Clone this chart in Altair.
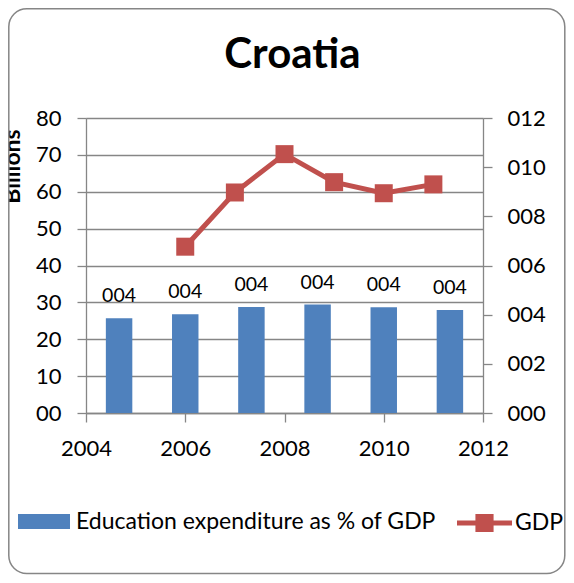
import altair as alt
import pandas as pd

# ---- data ----
title_text = "Croatia"
bar_series = "Education expenditure as % of GDP"
line_series = "GDP"
bar_categories = ["2005", "2006", "2007", "2008", "2009", "2010"]
edu_values = [3.85, 4.02, 4.31, 4.41, 4.30, 4.19]
gdp_years = [2006, 2007, 2008, 2009, 2010, 2011]
gdp_values = [45.1, 59.8, 70.2, 62.6, 59.6, 62.0]
left_ticks = [0, 10, 20, 30, 40, 50, 60, 70, 80]
right_ticks = [0, 2, 4, 6, 8, 10, 12]
x_ticks = [2004, 2006, 2008, 2010, 2012]

BLUE = "#4F81BD"
RED = "#C0504D"
GRAY = "#868686"
FONT = "Lato"

bars_df = pd.DataFrame({"cat": bar_categories, "edu": edu_values, "series": bar_series})
gdp_df = pd.DataFrame({"year": gdp_years, "gdp": gdp_values, "series": line_series})

W, H = 397, 295

frame = alt.Chart(alt.Data(values=[{"k": 1}])).mark_rect(
    fill="transparent", stroke=GRAY, strokeWidth=1.5, cornerRadius=18
).encode(
    x=alt.value(-77.2), x2=alt.value(478.8), y=alt.value(-109.2), y2=alt.value(455.5)
)

bar_x = alt.X("cat:N", axis=None, scale=alt.Scale(paddingInner=0.6))
bar_y = alt.Y(
    "edu:Q",
    scale=alt.Scale(domain=[0, 12], nice=False),
    axis=alt.Axis(
        orient="right", values=right_ticks, format="03d", grid=False, title=None,
        tickSize=9, tickColor=GRAY, tickWidth=1.3, domainColor=GRAY, domainWidth=1.3,
        labelPadding=15, labelFontSize=22, labelFont=FONT, labelColor="black",
        labelOverlap=False, labelFlush=False,
    ),
)

bars = alt.Chart(bars_df).mark_bar(color=BLUE).encode(
    x=bar_x,
    y=bar_y,
    color=alt.Color(
        "series:N",
        scale=alt.Scale(domain=[bar_series], range=[BLUE]),
        legend=alt.Legend(
            title=None, orient="none", legendX=-68, legendY=377.5,
            symbolType="M-1,-0.29L1,-0.29L1,0.29L-1,0.29Z", symbolSize=2704,
            symbolStrokeWidth=0, labelFontSize=23, labelFont=FONT, labelColor="black",
            labelOffset=6, padding=0, labelLimit=0,
        ),
    ),
)

bar_labels = alt.Chart(bars_df).mark_text(
    dy=-22, fontSize=19.5, font=FONT, color="black", baseline="middle"
).encode(
    x=bar_x,
    y=bar_y,
    text=alt.Text("edu:Q", format="03.0f"),
)

bar_layer = alt.layer(bars, bar_labels)

line_x = alt.X(
    "year:Q",
    scale=alt.Scale(domain=[2004, 2012], nice=False, zero=False),
    axis=alt.Axis(
        values=x_ticks, format="d", grid=False, title=None,
        tickSize=9, tickColor=GRAY, tickWidth=1.3, domainColor=GRAY, domainWidth=1.3,
        labelPadding=16, labelFontSize=22, labelFont=FONT, labelColor="black",
        labelOverlap=False, labelFlush=False,
    ),
)
line_y = alt.Y(
    "gdp:Q",
    scale=alt.Scale(domain=[0, 80], nice=False),
    axis=alt.Axis(
        values=left_ticks, format="02d", grid=True, gridColor=GRAY, gridWidth=1.3,
        tickSize=9, tickColor=GRAY, tickWidth=1.3, domainColor=GRAY, domainWidth=1.3,
        labelPadding=16, labelFontSize=22, labelFont=FONT, labelColor="black",
        labelOverlap=False, labelFlush=False,
        title="Billions", titleFont=FONT, titleFontSize=23, titleFontWeight="bold",
        titleColor="black", titleAngle=270, titleX=-67, titleY=48,
        titleAlign="center", titleBaseline="alphabetic",
    ),
)

line = alt.Chart(gdp_df).mark_line(color=RED, strokeWidth=5).encode(x=line_x, y=line_y)

markers = alt.Chart(gdp_df).mark_square(size=324, opacity=1).encode(
    x=line_x,
    y=line_y,
    color=alt.Color(
        "series:N",
        scale=alt.Scale(domain=[line_series], range=[RED]),
        legend=alt.Legend(
            title=None, orient="none", legendX=371, legendY=377.5,
            symbolType="M-1,-0.09H-0.33V-0.33H0.33V-0.09H1V0.09H0.33V0.33H-0.33V0.09H-1Z",
            symbolSize=3025, symbolStrokeWidth=0, labelFontSize=23, labelFont=FONT,
            labelColor="black", labelOffset=3, padding=0, labelLimit=0,
        ),
    ),
)

line_layer = alt.layer(line, markers)

chart = alt.layer(frame, bar_layer, line_layer).resolve_scale(
    x="independent", y="independent", color="independent"
).properties(
    width=W, height=H,
    autosize=alt.AutoSizeParams(type="none"),
    padding={"left": 78, "top": 110, "right": 83, "bottom": 162},
    title=alt.TitleParams(
        title_text, font=FONT, fontSize=42, fontWeight="bold", color="black",
        anchor="middle", dx=8, offset=0, dy=102, baseline="alphabetic",
    ),
).configure_view(stroke=None).configure(background="white")

chart.save("out.html", embed_options={"renderer": "svg", "actions": False})
